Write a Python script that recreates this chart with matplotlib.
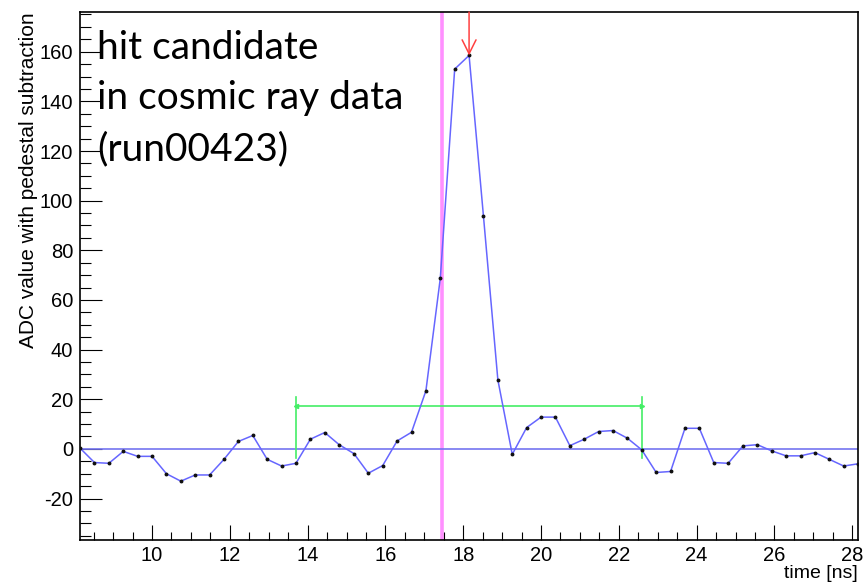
import matplotlib
matplotlib.use('Agg')
import matplotlib.pyplot as plt
from matplotlib.ticker import MultipleLocator

# sample times [ns] and ADC values after pedestal subtraction
time_ns = [8.15, 8.52, 8.89, 9.26, 9.63, 10.00, 10.37, 10.74, 11.11, 11.48,
           11.85, 12.22, 12.59, 12.96, 13.33, 13.70, 14.07, 14.44, 14.81, 15.19,
           15.56, 15.93, 16.30, 16.67, 17.04, 17.41, 17.78, 18.15, 18.52, 18.89,
           19.26, 19.63, 20.00, 20.37, 20.74, 21.11, 21.48, 21.85, 22.22, 22.59,
           22.96, 23.33, 23.70, 24.07, 24.44, 24.81, 25.19, 25.56, 25.93, 26.30,
           26.67, 27.04, 27.41, 27.78, 28.15]
adc = [0.3, -5.5, -5.8, -1.0, -3.0, -3.0, -10.0, -13.0, -10.5, -10.5,
       -4.2, 3.0, 5.4, -4.2, -6.9, -5.8, 3.9, 6.6, 1.7, -1.9,
       -9.8, -6.7, 3.2, 6.7, 23.4, 68.7, 153.0, 158.5, 93.7, 27.8,
       -2.2, 8.6, 12.8, 12.8, 1.3, 3.9, 7.0, 7.4, 4.3, -0.4,
       -9.5, -9.1, 8.3, 8.3, -5.5, -5.8, 1.2, 1.7, -0.8, -2.8,
       -2.8, -1.5, -4.2, -6.9, -6.0]

baseline = 0.0
window = [13.70, 22.59]   # integration window (green)
window_level = 17.3
window_low, window_high = -3.8, 20.8
t_ref = 17.45             # magenta reference time
t_peak, peak_val = 18.15, 158.5

annot_lines = ['hit candidate', 'in cosmic ray data', '(run00423)']

plt.rcParams['font.family'] = 'Liberation Sans'
plt.rcParams['axes.unicode_minus'] = False

fig = plt.figure(figsize=(8.63, 5.84), dpi=100)
ax = fig.add_axes([80/863, 44/584, 778/863, 528/584])

ax.axhline(baseline, color='#7474f0', lw=1.2, zorder=2)
ax.axvline(t_ref, color='#ff90ff', lw=2.6, zorder=1)

# green window bracket
ax.plot([window[0], window[0]], [window_low, window_high], color='#44ee66', lw=1.2, zorder=2)
ax.plot([window[1], window[1]], [window_low, window_high], color='#44ee66', lw=1.2, zorder=2)
ax.plot(window, [window_level, window_level], color='#44ee66', lw=1.2, zorder=2)
ax.plot([window[0]], [window_level], marker='<', ms=3, color='#44ee66', zorder=2)
ax.plot([window[1]], [window_level], marker='>', ms=3, color='#44ee66', zorder=2)

ax.plot(time_ns, adc, color='#6666ff', lw=1.1, zorder=3)
ax.plot(time_ns, adc, ls='none', marker='o', ms=1.8, color='#111111', zorder=4)

ax.annotate('', xy=(t_peak, peak_val), xycoords='data',
            xytext=(t_peak, 1.0), textcoords=('data', 'axes fraction'),
            arrowprops=dict(arrowstyle='->, head_length=1.0, head_width=0.5',
                            color='#ff4040', lw=1.1, shrinkA=0, shrinkB=0,
                            mutation_scale=10),
            annotation_clip=False, zorder=5)

ax.set_xlim(8.148, 28.148)
ax.set_ylim(-36.7, 176)

ax.xaxis.set_major_locator(MultipleLocator(2))
ax.xaxis.set_minor_locator(MultipleLocator(0.5))
ax.yaxis.set_major_locator(MultipleLocator(20))
ax.yaxis.set_minor_locator(MultipleLocator(5))
ax.tick_params(axis='both', which='both', direction='in', width=0.8,
               labelsize=14.5, top=False, right=False)
ax.tick_params(axis='y', which='major', length=16, pad=5)
ax.tick_params(axis='y', which='minor', length=8)
ax.tick_params(axis='x', which='major', length=11, pad=4)
ax.tick_params(axis='x', which='minor', length=6)
for sp in ax.spines.values():
    sp.set_linewidth(1.2)

ax.set_xlabel('time [ns]', loc='right', fontsize=14, labelpad=0.5)
ax.set_ylabel('ADC value with pedestal subtraction', loc='top', fontsize=15, labelpad=1)

baselines_px = [59, 109, 160]
for line, ypx in zip(annot_lines, baselines_px):
    ax.text(0.022, (540 - ypx)/528, line, transform=ax.transAxes,
            fontsize=28, family='Lato', va='baseline', ha='left', zorder=6)

fig.savefig('out.png', dpi=100)
